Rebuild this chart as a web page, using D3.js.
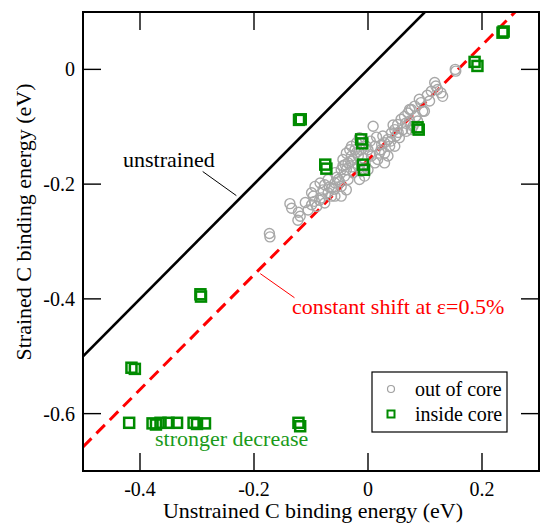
<!DOCTYPE html>
<html lang="en">
<head>
<meta charset="UTF-8">
<title>Strained vs unstrained C binding energy</title>
<script src="https://d3js.org/d3.v7.min.js"></script>
<style>
    body { margin: 0; background: #fff; }
    svg { display: block; }
</style>
</head>
<body>
<div id="chart"></div>
<script>
    // out of core sites (unstrained, strained) in eV
    const outCoreX = [-0.173, -0.172, -0.137, -0.134, -0.122, -0.119, -0.123, -0.099, -0.096, -0.094,
        -0.099, -0.090, -0.082, -0.079, -0.076, -0.070, -0.064, -0.058, -0.052, -0.064,
        -0.076, -0.047, -0.041, -0.038, -0.035, -0.029, -0.023, -0.032, -0.026, -0.017,
        -0.017, -0.026, -0.035, 0.009, 0.000, 0.006, 0.012, 0.017, 0.023, 0.029,
        0.026, 0.035, 0.041, 0.047, 0.052, 0.058, 0.064, 0.070, 0.076, 0.082,
        0.090, 0.093, 0.096, 0.084, 0.073, 0.061, 0.049, 0.038, 0.029, 0.117,
        0.119, 0.111, 0.128, 0.131, 0.122, 0.154, 0.153, -0.058, -0.047, -0.038,
        -0.015, -0.006, 0.000, -0.012, -0.003, 0.012, 0.020, 0.029, 0.035, 0.047,
        0.055, 0.067, 0.079, 0.087, -0.093, -0.084, -0.070, -0.058, -0.047, -0.044,
        -0.038, -0.020, -0.015, -0.029, 0.099, 0.073, 0.076, 0.104, 0.108, -0.110,
        -0.105, -0.085, -0.068, -0.055, -0.044, -0.030, -0.020, -0.008, 0.004, 0.015,
        0.040, 0.053, 0.066, -0.060, -0.050, -0.040, -0.028, -0.012, 0.024, 0.044];
    const outCoreY = [-0.286, -0.292, -0.234, -0.242, -0.249, -0.256, -0.263, -0.215, -0.221, -0.230,
        -0.236, -0.239, -0.224, -0.210, -0.201, -0.215, -0.207, -0.198, -0.192, -0.221,
        -0.233, -0.204, -0.186, -0.175, -0.163, -0.151, -0.140, -0.140, -0.157, -0.151,
        -0.169, -0.180, -0.192, -0.099, -0.140, -0.151, -0.163, -0.157, -0.140, -0.128,
        -0.116, -0.122, -0.111, -0.105, -0.096, -0.087, -0.082, -0.076, -0.070, -0.064,
        -0.052, -0.058, -0.073, -0.082, -0.090, -0.105, -0.116, -0.134, -0.146, -0.023,
        -0.029, -0.038, -0.041, -0.047, -0.035, -0.003, 0.000, -0.221, -0.221, -0.210,
        -0.192, -0.186, -0.175, -0.140, -0.134, -0.134, -0.146, -0.163, -0.151, -0.134,
        -0.119, -0.108, -0.099, -0.090, -0.204, -0.198, -0.192, -0.180, -0.175, -0.157,
        -0.146, -0.128, -0.119, -0.134, -0.073, -0.070, -0.105, -0.045, -0.055, -0.232,
        -0.245, -0.228, -0.205, -0.188, -0.168, -0.160, -0.145, -0.155, -0.125, -0.118,
        -0.125, -0.110, -0.094, -0.209, -0.196, -0.166, -0.170, -0.178, -0.131, -0.097];

    // inside core sites
    const inCoreX = [0.238, 0.236, 0.187, 0.192, -0.121, -0.118, -0.012, -0.010, -0.075, -0.073,
        -0.009, -0.007, 0.087, 0.089, -0.294, -0.293, -0.415, -0.409, -0.419, -0.378,
        -0.372, -0.364, -0.350, -0.335, -0.306, -0.300, -0.286, -0.122, -0.119];
    const inCoreY = [0.066, 0.064, 0.013, 0.006, -0.088, -0.087, -0.122, -0.129, -0.166, -0.173,
        -0.166, -0.175, -0.101, -0.105, -0.392, -0.396, -0.520, -0.522, -0.616, -0.617,
        -0.619, -0.616, -0.616, -0.616, -0.616, -0.618, -0.617, -0.616, -0.622];

    const xTicks = [-0.4, -0.2, 0, 0.2];
    const yTicks = [-0.6, -0.4, -0.2, 0];
    const strainShift = -0.158;   // constant shift at eps = 0.5%

    const width = 540, height = 524;
    const m = { left: 83, right: 539, top: 12, bottom: 471 };

    const x = d3.scaleLinear().domain([-0.5, 0.3]).range([m.left, m.right]);
    const y = d3.scaleLinear().domain([-0.7, 0.1]).range([m.bottom, m.top]);

    const svg = d3.select("#chart").append("svg")
        .attr("width", width)
        .attr("height", height)
        .style("font-family", '"Liberation Serif", "Times New Roman", Times');

    svg.append("defs").append("clipPath").attr("id", "plot")
        .append("rect")
        .attr("x", m.left).attr("y", m.top)
        .attr("width", m.right - m.left).attr("height", m.bottom - m.top);

    // plain hyphen for negatives, like the original
    const fmt = d => d === 0 ? "0" : d.toFixed(1);

    // ticks, inward on all four sides
    const tickLen = 18;
    const ticks = svg.append("g").attr("stroke", "#000").attr("stroke-width", 1.4);
    xTicks.forEach(t => {
        ticks.append("line").attr("x1", x(t)).attr("x2", x(t)).attr("y1", m.bottom).attr("y2", m.bottom - tickLen);
        ticks.append("line").attr("x1", x(t)).attr("x2", x(t)).attr("y1", m.top).attr("y2", m.top + tickLen);
    });
    yTicks.forEach(t => {
        ticks.append("line").attr("y1", y(t)).attr("y2", y(t)).attr("x1", m.left).attr("x2", m.left + tickLen);
        ticks.append("line").attr("y1", y(t)).attr("y2", y(t)).attr("x1", m.right).attr("x2", m.right - tickLen);
    });

    svg.append("g").selectAll("text").data(xTicks).join("text")
        .attr("x", d => x(d))
        .attr("y", 496)
        .attr("text-anchor", "middle")
        .attr("font-size", 20)
        .text(fmt);

    svg.append("g").selectAll("text").data(yTicks).join("text")
        .attr("x", m.left - 8)
        .attr("y", d => y(d) + 7)
        .attr("text-anchor", "end")
        .attr("font-size", 20)
        .text(fmt);

    svg.append("text")
        .attr("x", 313)
        .attr("y", 518)
        .attr("text-anchor", "middle")
        .attr("font-size", 22)
        .text("Unstrained C binding energy (eV)");

    svg.append("text")
        .attr("transform", "translate(31,222) rotate(-90)")
        .attr("text-anchor", "middle")
        .attr("font-size", 22)
        .text("Strained C binding energy (eV)");

    const plot = svg.append("g").attr("clip-path", "url(#plot)");

    // reference lines
    const lineX = [-0.5, 0.3];
    plot.append("line")
        .attr("x1", x(lineX[0])).attr("y1", y(lineX[0]))
        .attr("x2", x(lineX[1])).attr("y2", y(lineX[1]))
        .attr("stroke", "#000").attr("stroke-width", 2.6);

    plot.append("line")
        .attr("x1", x(lineX[0])).attr("y1", y(lineX[0] + strainShift))
        .attr("x2", x(lineX[1])).attr("y2", y(lineX[1] + strainShift))
        .attr("stroke", "#ff0000").attr("stroke-width", 3)
        .attr("stroke-dasharray", "12,7");

    // points
    plot.append("g").selectAll("circle").data(d3.range(outCoreX.length)).join("circle")
        .attr("cx", i => x(outCoreX[i]))
        .attr("cy", i => y(outCoreY[i]))
        .attr("r", 5)
        .attr("fill", "none")
        .attr("stroke", "#a8a8a8")
        .attr("stroke-width", 1.4);

    const sq = 10;
    plot.append("g").selectAll("rect").data(d3.range(inCoreX.length)).join("rect")
        .attr("x", i => x(inCoreX[i]) - sq / 2)
        .attr("y", i => y(inCoreY[i]) - sq / 2)
        .attr("width", sq).attr("height", sq)
        .attr("fill", "none")
        .attr("stroke", "#008b00")
        .attr("stroke-width", 2.5);

    // annotations
    svg.append("text").attr("x", 123).attr("y", 167)
        .attr("font-size", 22).text("unstrained");
    svg.append("line")
        .attr("x1", x(-0.290)).attr("y1", y(-0.178))
        .attr("x2", x(-0.231)).attr("y2", y(-0.220))
        .attr("stroke", "#000").attr("stroke-width", 1);

    svg.append("text").attr("x", 292).attr("y", 314)
        .attr("font-size", 22).attr("fill", "#ff0000").text("constant shift at \u03b5=0.5%");
    svg.append("line")
        .attr("x1", x(-0.189)).attr("y1", y(-0.356))
        .attr("x2", x(-0.129)).attr("y2", y(-0.398))
        .attr("stroke", "#ff0000").attr("stroke-width", 1);

    svg.append("text").attr("x", 155).attr("y", 446)
        .attr("font-size", 22).attr("fill", "#1a9a1a").text("stronger decrease");

    // legend
    const legend = svg.append("g").attr("transform", "translate(372,372)");
    legend.append("rect").attr("width", 135).attr("height", 60)
        .attr("fill", "#fff").attr("stroke", "#000").attr("stroke-width", 1.2);
    legend.append("circle").attr("cx", 19).attr("cy", 17).attr("r", 3.5)
        .attr("fill", "none").attr("stroke", "#a0a0a0").attr("stroke-width", 1.2);
    legend.append("rect").attr("x", 15.5).attr("y", 38.5).attr("width", 7).attr("height", 7)
        .attr("fill", "none").attr("stroke", "#008b00").attr("stroke-width", 2);
    legend.append("text").attr("x", 43).attr("y", 24).attr("font-size", 20).text("out of core");
    legend.append("text").attr("x", 43).attr("y", 49).attr("font-size", 20).text("inside core");

    // frame
    svg.append("rect")
        .attr("x", m.left).attr("y", m.top)
        .attr("width", m.right - m.left).attr("height", m.bottom - m.top)
        .attr("fill", "none").attr("stroke", "#000").attr("stroke-width", 2);
</script>
</body>
</html>
